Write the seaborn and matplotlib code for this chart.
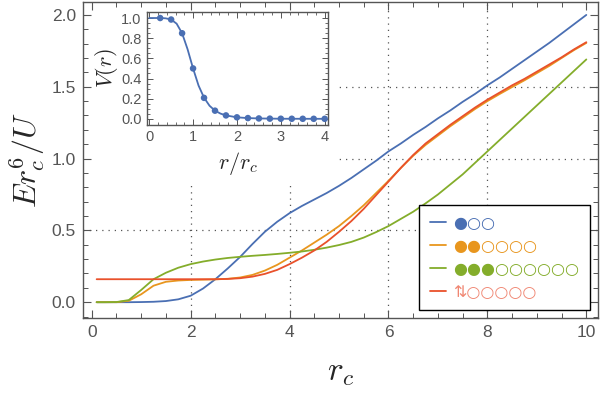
import numpy as np
import pandas as pd
import matplotlib
matplotlib.use("Agg")
import matplotlib.pyplot as plt
from matplotlib.lines import Line2D
from matplotlib.path import Path
import seaborn as sns

# ---- data ----
r_c = [0.1, 0.25, 0.5, 0.75, 1.0, 1.25, 1.5, 1.75, 2.0, 2.25, 2.5, 2.75, 3.0, 3.25,
       3.5, 3.75, 4.0, 4.25, 4.5, 4.75, 5.0, 5.25, 5.5, 5.75, 6.0, 6.25, 6.5, 6.75,
       7.0, 7.25, 7.5, 7.75, 8.0, 8.25, 8.5, 8.75, 9.0, 9.25, 9.5, 9.75, 10.0]

E_blue = [0.0, 0.0, 0.0, 0.0, 0.001, 0.003, 0.008, 0.02, 0.045, 0.095, 0.16, 0.235,
          0.315, 0.405, 0.49, 0.56, 0.62, 0.67, 0.715, 0.76, 0.81, 0.865, 0.925,
          0.985, 1.05, 1.105, 1.165, 1.22, 1.28, 1.335, 1.395, 1.45, 1.51, 1.565,
          1.625, 1.685, 1.745, 1.805, 1.87, 1.935, 2.0]
E_orange = [0.0, 0.0, 0.0, 0.01, 0.055, 0.115, 0.142, 0.151, 0.155, 0.157, 0.159,
            0.163, 0.172, 0.19, 0.22, 0.26, 0.31, 0.36, 0.415, 0.47, 0.53, 0.6,
            0.675, 0.76, 0.845, 0.935, 1.02, 1.095, 1.16, 1.225, 1.285, 1.345, 1.4,
            1.45, 1.498, 1.545, 1.595, 1.645, 1.7, 1.755, 1.805]
E_green = [0.0, 0.0, 0.001, 0.015, 0.085, 0.16, 0.205, 0.24, 0.265, 0.283, 0.297,
           0.308, 0.316, 0.323, 0.329, 0.336, 0.344, 0.353, 0.365, 0.38, 0.398,
           0.42, 0.45, 0.488, 0.53, 0.58, 0.63, 0.688, 0.75, 0.82, 0.89, 0.97, 1.05,
           1.13, 1.21, 1.29, 1.37, 1.45, 1.53, 1.61, 1.69]
E_red = [0.16, 0.16, 0.16, 0.16, 0.16, 0.16, 0.16, 0.16, 0.16, 0.16, 0.16, 0.162,
         0.167, 0.178, 0.197, 0.225, 0.265, 0.31, 0.36, 0.42, 0.49, 0.565, 0.65,
         0.745, 0.84, 0.935, 1.025, 1.105, 1.17, 1.235, 1.295, 1.355, 1.41, 1.46,
         1.51, 1.555, 1.605, 1.655, 1.705, 1.76, 1.81]

configs = ["blue", "orange", "green", "red"]
legend_labels = ["\u25cf\u25cb\u25cb",
                 "\u25cf\u25cf\u25cb\u25cb\u25cb\u25cb",
                 "\u25cf\u25cf\u25cf\u25cb\u25cb\u25cb\u25cb\u25cb\u25cb",
                 "\u21c5\u25cb\u25cb\u25cb\u25cb\u25cb"]

# inset: potential V(r)
r_line = [0.0, 0.125, 0.25, 0.375, 0.5, 0.625, 0.75, 0.875, 1.0, 1.125, 1.25, 1.375,
          1.5, 1.625, 1.75, 2.0, 2.25, 2.5, 3.0, 3.5, 4.0]
V_line = [1.0, 1.0, 1.0, 0.997, 0.985, 0.944, 0.849, 0.69, 0.5, 0.33, 0.21, 0.13,
          0.081, 0.052, 0.034, 0.015, 0.0075, 0.004, 0.001, 0.0005, 0.0002]
r_pts = [0.25, 0.5, 0.75, 1.0, 1.25, 1.5, 1.75, 2.0, 2.25, 2.5, 2.75, 3.0, 3.25,
         3.5, 3.75, 4.0]
V_pts = [1.0, 0.985, 0.849, 0.5, 0.208, 0.081, 0.034, 0.015, 0.0075, 0.004, 0.002,
         0.001, 0.0008, 0.0005, 0.0003, 0.0002]

colors = {"blue": "#4a6fb3", "orange": "#e8961e", "green": "#84ad2b", "red": "#e9512b"}
label_colors = ["#4a6fb3", "#e8961e", "#84ad2b", "#f08672"]

df = pd.DataFrame({
    "r": r_c * 4,
    "E": E_blue + E_orange + E_green + E_red,
    "config": sum([[c] * len(r_c) for c in configs], []),
})
df_v = pd.DataFrame({"r": r_line, "V": V_line})
df_p = pd.DataFrame({"r": r_pts, "V": V_pts})

sns.set_style("ticks")
plt.rcParams["font.family"] = ["Liberation Sans", "DejaVu Sans"]
plt.rcParams["mathtext.fontset"] = "cm"

grey = "#555555"
fig = plt.figure(figsize=(6, 3.99), dpi=100)
ax = fig.add_axes([0.138, 0.203, 0.859, 0.792])

sns.lineplot(data=df, x="r", y="E", hue="config", palette=colors, legend=False,
             sort=False, estimator=None, lw=1.3, ax=ax, zorder=3)

ax.set_xlim(-0.18, 10.24)
ax.set_ylim(-0.11, 2.09)
ax.set_xticks([0, 2, 4, 6, 8, 10])
ax.set_xticks(np.arange(0, 10.01, 0.5), minor=True)
ax.set_yticks([0.0, 0.5, 1.0, 1.5, 2.0])
ax.set_yticks(np.arange(-0.1, 2.09, 0.1), minor=True)
ax.set_yticklabels(["0.0", "0.5", "1.0", "1.5", "2.0"])
ax.tick_params(which="both", direction="in", top=True, right=True, color=grey,
               labelcolor=grey, labelsize=12.5)
ax.tick_params(which="major", length=6, width=0.8, pad=5)
ax.tick_params(which="minor", length=3.5, width=0.7)
for s in ax.spines.values():
    s.set_color(grey)
    s.set_linewidth(1.0)

ax.set_xlabel("$r_c$", fontsize=24, labelpad=12)
ax.set_ylabel("$Er_c^6/U$", fontsize=23, labelpad=3)

# dotted grid, hidden behind the inset area
clip = Path([(0, 0), (1, 0), (1, 1), (0.489, 1), (0.489, 0.427), (0, 0.427), (0, 0)])
for gx in [2, 4, 6, 8]:
    ln = ax.axvline(gx, color=grey, lw=0.9, ls=(0, (1, 4)), zorder=1)
    ln.set_clip_path(clip, transform=ax.transAxes)
for gy in [0.5, 1.0, 1.5]:
    ln = ax.axhline(gy, color=grey, lw=0.9, ls=(0, (1, 4)), zorder=1)
    ln.set_clip_path(clip, transform=ax.transAxes)

handles = [Line2D([], [], color=colors[c], lw=1.3) for c in configs]
leg = ax.legend(handles, legend_labels, loc="lower right",
                bbox_to_anchor=(0.984, 0.025), borderaxespad=0,
                prop={"family": "DejaVu Sans", "size": 11.5},
                frameon=True, fancybox=False, framealpha=1, edgecolor="black",
                handlelength=1.0, handletextpad=0.5, labelspacing=0.5,
                borderpad=0.65)
leg.get_frame().set_linewidth(1.0)
for t, c in zip(leg.get_texts(), label_colors):
    t.set_color(c)

# inset
axi = fig.add_axes([0.245, 0.687, 0.302, 0.283])
sns.lineplot(data=df_v, x="r", y="V", color=colors["blue"], lw=1.3, ax=axi)
sns.scatterplot(data=df_p, x="r", y="V", color=colors["blue"], s=22,
                edgecolor="none", ax=axi, zorder=3)
axi.set_xlim(-0.05, 4.08)
axi.set_ylim(-0.06, 1.06)
axi.set_xticks([0, 1, 2, 3, 4])
axi.set_xticks(np.arange(0, 4.01, 0.2), minor=True)
axi.set_yticks([0.0, 0.2, 0.4, 0.6, 0.8, 1.0])
axi.set_yticks(np.arange(0, 1.01, 0.05), minor=True)
axi.set_yticklabels(["0.0", "0.2", "0.4", "0.6", "0.8", "1.0"])
axi.tick_params(which="both", direction="in", top=True, right=True, color=grey,
                labelcolor=grey, labelsize=10.5)
axi.tick_params(which="major", length=4, width=0.7, pad=4)
axi.tick_params(which="minor", length=2, width=0.6)
for s in axi.spines.values():
    s.set_color(grey)
    s.set_linewidth(1.0)
axi.set_xlabel("$r/r_c$", fontsize=16, labelpad=4)
axi.set_ylabel("$V(r)$", fontsize=16, labelpad=1)

fig.savefig("out.png", dpi=100)
